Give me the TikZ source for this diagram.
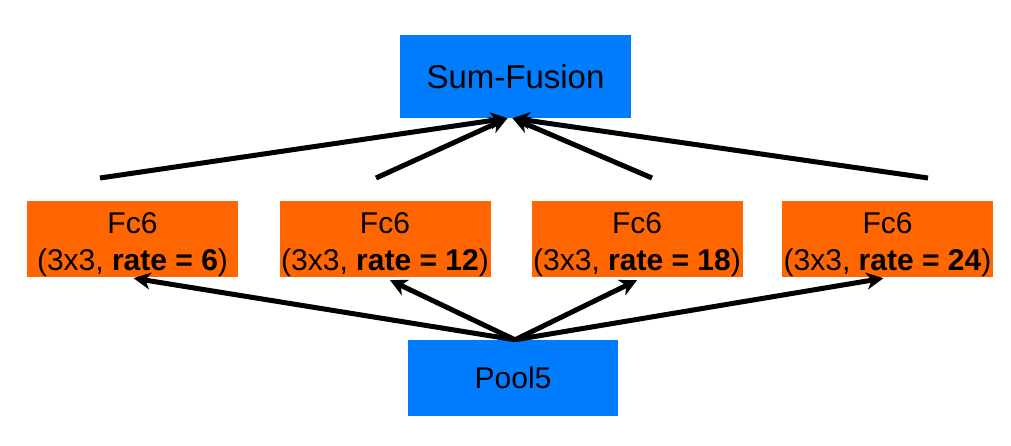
\documentclass[tikz,border=0pt]{standalone}
\usepackage{fontspec}
\setmainfont{Liberation Sans}
\usetikzlibrary{arrows.meta,calc}
\definecolor{boxblue}{RGB}{0,125,255}
\definecolor{boxorange}{RGB}{255,102,0}
\newcommand{\topstrut}{\rule{0pt}{32pt}}
\tikzset{
  bluebox/.style={fill=boxblue, draw=none, inner sep=0pt, align=center},
  orangebox/.style={fill=boxorange, draw=none, minimum width=211pt, minimum height=76pt, inner sep=0pt, align=center, font=\fontsize{30}{37}\selectfont},
  conn/.style={line width=5pt, -{Stealth[length=17pt,width=17pt,inset=5pt]}}
}
\begin{document}
\begin{tikzpicture}[x=1pt,y=-1pt]
\useasboundingbox (0,0) rectangle (1011,445);
\fill[white] (0,0) rectangle (1011,445);
\node[bluebox, minimum width=231pt, minimum height=83pt, font=\fontsize{33}{38}\selectfont] (sf) at (515.5,76.5) {Sum-Fusion};
\node[bluebox, minimum width=210pt, minimum height=76pt, font=\fontsize{30}{36}\selectfont] (pool) at (513,378) {Pool5};
\node[orangebox] (f1) at (132.5,239) {\topstrut Fc6\\(3x3, \textbf{rate = 6})};
\node[orangebox] (f2) at (385,239) {\topstrut Fc6\\(3x3, \textbf{rate = 12})};
\node[orangebox] (f3) at (637,239) {\topstrut Fc6\\(3x3, \textbf{rate = 18})};
\node[orangebox] (f4) at (887.5,239) {\topstrut Fc6\\(3x3, \textbf{rate = 24})};
% free ends above the orange boxes
\coordinate (s1) at (100,178);
\coordinate (s2) at (376,178);
\coordinate (s3) at (652,178);
\coordinate (s4) at (928,178);
\coordinate (tl) at ($(sf.south)+(-8,0)$);
\coordinate (tr) at ($(sf.south)+(-3,0)$);
\draw[conn] (s1) -- (tl);
\draw[conn] (s2) -- (tl);
\draw[conn] (s3) -- (tr);
\draw[conn] (s4) -- (tr);
% from pool5
\coordinate (p) at ($(pool.north)+(2,0)$);
\draw[conn] (p) -- ($(f1.south)+(1,1)$);
\draw[conn] (p) -- ($(f2.south)+(5,3)$);
\draw[conn] (p) -- ($(f3.south)+(0,3)$);
\draw[conn] (p) -- ($(f4.south)+(-4,1)$);
\end{tikzpicture}
\end{document}
